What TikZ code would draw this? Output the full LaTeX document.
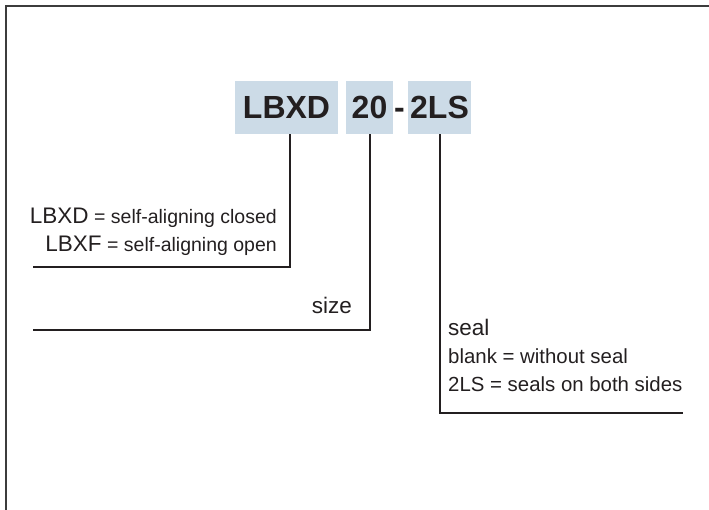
\documentclass[tikz,border=0pt]{standalone}
\usepackage{fontspec}
\setmainfont{Liberation Sans}
\definecolor{boxblue}{RGB}{204,219,231}
\definecolor{ink}{RGB}{35,31,32}
\definecolor{frame}{RGB}{60,60,60}
\newcommand{\titlefont}{\fontsize{32}{36}\selectfont\bfseries}
\newcommand{\labfont}{\fontsize{22.5}{26}\selectfont}
\newcommand{\detfont}{\fontsize{19.5}{23}\selectfont}
\newcommand{\detRfont}{\fontsize{20.4}{24}\selectfont}
\tikzset{
  tbox/.style={fill=boxblue, inner sep=0pt, minimum height=53pt, text=ink, font=\titlefont},
  conn/.style={draw=ink, line width=2.8pt, line join=miter},
  txt/.style={inner sep=0pt, text=ink},
}
\begin{document}
\begin{tikzpicture}[x=1pt,y=-1pt]
\useasboundingbox (0,0) rectangle (709,510);
% frame
\draw[frame, line width=1.6pt] (6,510) -- (6,6) -- (709,6);
% title boxes
\node[tbox, minimum width=103pt] (lbxd) at (286.5,107.5) {LBXD};
\node[tbox, minimum width=47pt] (size) at (369.5,107.5) {20};
\node[tbox, minimum width=63pt] (seal) at (439.5,107.5) {2LS};
\node[txt, font=\titlefont, anchor=base] (dash) at (399.5,118.5) {-};
% connectors
\coordinate (k1) at (290,267);
\coordinate (e1) at (33,267);
\coordinate (k2) at (370,330);
\coordinate (e2) at (33,330);
\coordinate (k3) at (440,413);
\coordinate (e3) at (683,413);
\draw[conn] (lbxd.south -| k1) -- (k1) -- (e1);
\draw[conn] (size.south -| k2) -- (k2) -- (e2);
\draw[conn] (seal.south -| k3) -- (k3) -- (e3);
% texts
\node[txt, anchor=base east, font=\detfont] (t1) at (277,224) {{\labfont LBXD} = self-aligning closed};
\node[txt, anchor=base east, font=\detfont] (t2) at (277,252) {{\labfont LBXF} = self-aligning open};
\node[txt, anchor=base east, font=\labfont] (t3) at (352,314) {size};
\node[txt, anchor=base west, font=\labfont] (t4) at (448,335) {seal};
\node[txt, anchor=base west, font=\detRfont] (t5) at (448,363.5) {blank = without seal};
\node[txt, anchor=base west, font=\detRfont] (t6) at (448,391) {2LS = seals on both sides};
\end{tikzpicture}
\end{document}
